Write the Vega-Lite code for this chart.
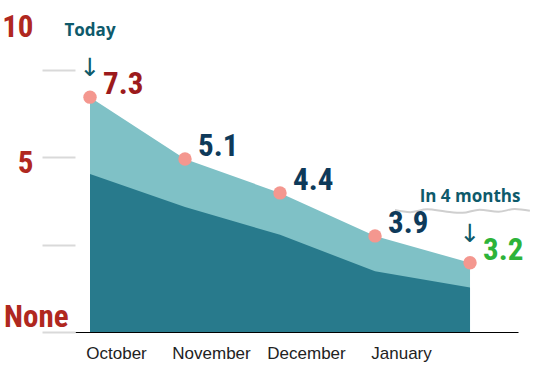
{
  "$schema": "https://vega.github.io/schema/vega-lite/v6.json",
  "autosize": "none",
  "width": 443,
  "height": 332,
  "padding": {"left": 75, "top": 0, "right": 16, "bottom": 41},
  "background": "white",
  "config": {"view": {"stroke": null}},
  "datasets": {
    "main": [
      {"month": "October", "t": 0, "value": 7.3, "top": 6.72, "base": 4.52, "note": "Today"},
      {"month": "November", "t": 1, "value": 5.1, "top": 4.95, "base": 3.58, "note": ""},
      {"month": "December", "t": 2, "value": 4.4, "top": 3.98, "base": 2.78, "note": ""},
      {"month": "January", "t": 3, "value": 3.9, "top": 2.75, "base": 1.74, "note": ""},
      {"month": "February", "t": 4, "value": 3.2, "top": 1.98, "base": 1.27, "note": "In 4 months"}
    ],
    "wave": [
      {"t": 3.21, "y": 3.49},
      {"t": 3.37, "y": 3.43},
      {"t": 3.55, "y": 3.51},
      {"t": 3.74, "y": 3.45},
      {"t": 3.92, "y": 3.41},
      {"t": 4.1, "y": 3.5},
      {"t": 4.3, "y": 3.44},
      {"t": 4.47, "y": 3.52},
      {"t": 4.63, "y": 3.47}
    ]
  },
  "encoding": {
    "x": {
      "field": "t",
      "type": "quantitative",
      "scale": {"domain": [-0.158, 4.505], "nice": false, "zero": false},
      "axis": {
        "title": null,
        "values": [0, 1, 2, 3],
        "labelExpr": "['October','November','December','January'][datum.value]",
        "grid": false,
        "ticks": false,
        "domainColor": "#000000",
        "domainWidth": 1,
        "labelFont": "Liberation Sans",
        "labelFontSize": 17,
        "labelColor": "#222222",
        "labelOffset": 26,
        "labelPadding": 13,
        "labelBaseline": "top"
      }
    }
  },
  "layer": [
    {
      "data": {"name": "main"},
      "mark": {"type": "area", "color": "#7fc1c6"},
      "encoding": {
        "y": {
          "field": "top",
          "type": "quantitative",
          "scale": {"domain": [0, 9.5], "nice": false, "zero": true},
          "axis": {
            "title": null,
            "values": [0, 2.5, 5, 7.5, 9.5],
            "domain": false,
            "grid": false,
            "tickSize": 33,
            "tickWidth": 2,
            "tickColor": "#d9d9d9",
            "tickOpacity": {"expr": "datum.value > 9 ? 0 : 1"},
            "labelExpr": "datum.value == 0 ? 'None' : datum.value == 5 ? '5' : datum.value > 9 ? '10' : ''",
            "labelFont": "Roboto Condensed, Liberation Sans Narrow, DejaVu Sans Condensed, sans-serif",
            "labelFontWeight": "bold",
            "labelFontSize": 31,
            "labelColor": "#b0281f",
            "labelAlign": "right",
            "labelBaseline": "middle",
            "labelPadding": {"expr": "datum.value == 0 ? -26 : 9"},
            "labelOffset": {"expr": "datum.value > 9 ? 27 : datum.value == 5 ? 6 : -15"}
          }
        }
      }
    },
    {
      "data": {"name": "main"},
      "mark": {"type": "area", "color": "#287a8c"},
      "encoding": {"y": {"field": "base", "type": "quantitative"}}
    },
    {
      "data": {"name": "wave"},
      "mark": {"type": "line", "color": "#cfcfcf", "strokeWidth": 2, "interpolate": "monotone"},
      "encoding": {
        "x": {"field": "t", "type": "quantitative"},
        "y": {"field": "y", "type": "quantitative"}
      }
    },
    {
      "data": {"name": "main"},
      "mark": {"type": "circle", "color": "#f4978f", "opacity": 1, "size": 180},
      "encoding": {"y": {"field": "top", "type": "quantitative"}}
    },
    {
      "data": {"name": "main"},
      "mark": {
        "type": "text",
        "align": "left",
        "baseline": "middle",
        "dx": 13,
        "dy": -12,
        "font": "Roboto Condensed, Liberation Sans Narrow, DejaVu Sans Condensed, sans-serif",
        "fontWeight": "bold",
        "fontSize": 31
      },
      "encoding": {
        "y": {"field": "top", "type": "quantitative"},
        "text": {"field": "value", "type": "quantitative", "format": ".1f"},
        "color": {
          "condition": [
            {"test": "datum.t == 0", "value": "#9c1a1c"},
            {"test": "datum.t == 4", "value": "#2db33a"}
          ],
          "value": "#0e3a5a"
        }
      }
    },
    {
      "data": {"name": "main"},
      "transform": [{"filter": "datum.note != ''"}],
      "mark": {
        "type": "text",
        "align": "center",
        "baseline": "middle",
        "dy": -66,
        "font": "Open Sans",
        "fontWeight": "bold",
        "fontSize": 17,
        "color": "#0e5a6b"
      },
      "encoding": {
        "y": {"field": "top", "type": "quantitative"},
        "text": {"field": "note"}
      }
    },
    {
      "data": {"name": "main"},
      "transform": [{"filter": "datum.note != ''"}],
      "mark": {
        "type": "text",
        "align": "center",
        "baseline": "middle",
        "dy": -29,
        "font": "DejaVu Sans",
        "fontSize": 25,
        "color": "#0e5a6b",
        "text": "↓"
      },
      "encoding": {
        "y": {"field": "top", "type": "quantitative"}
      }
    }
  ]
}
